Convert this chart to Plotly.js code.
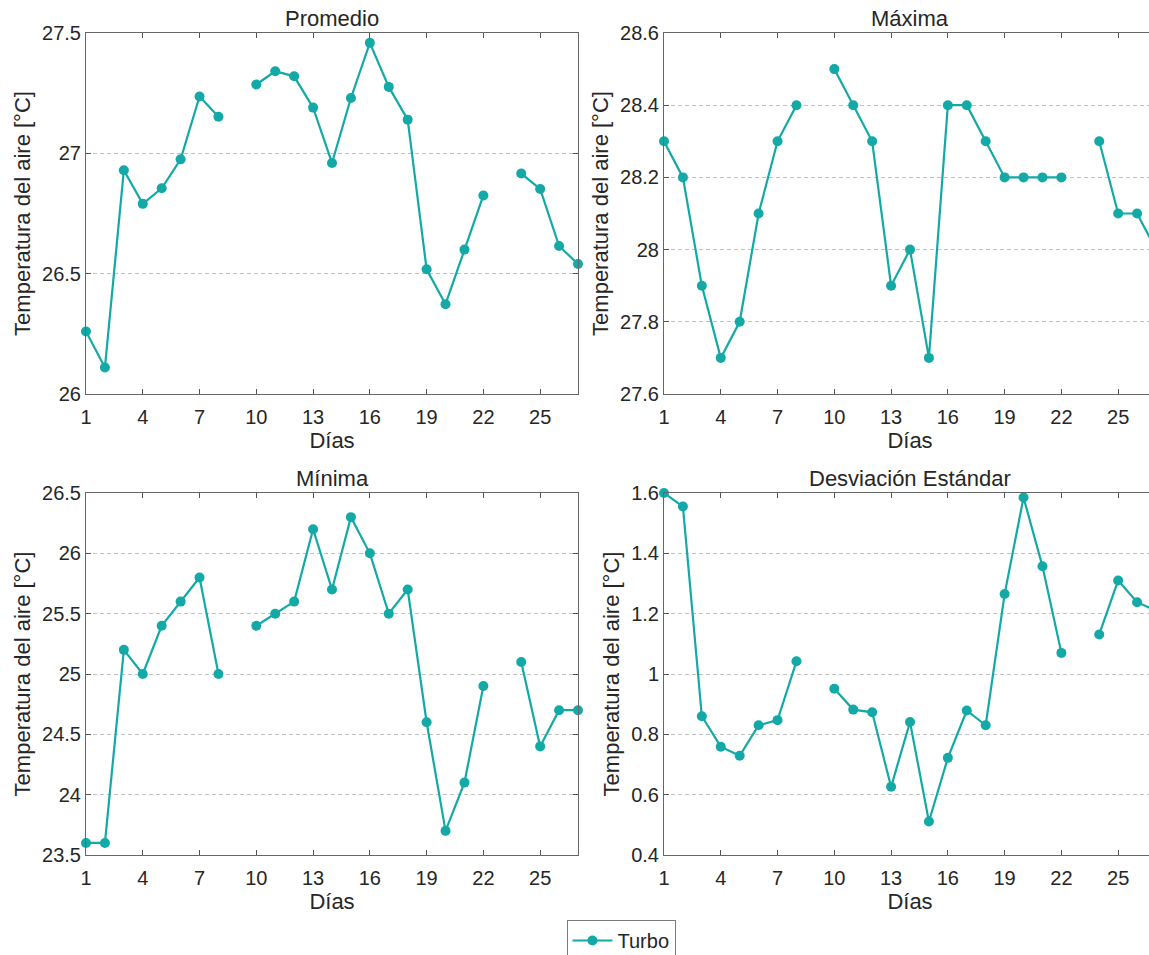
<!DOCTYPE html>
<html>
<head>
<meta charset="utf-8">
<script src="https://cdn.plot.ly/plotly-3.0.1.min.js"></script>
<style>
html, body { margin:0; padding:0; overflow:hidden; background:#fff; }
#chart { width:1165px; height:975px; }
</style>
</head>
<body>
<div id="chart"></div>
<script>
const dias = [1,2,3,4,5,6,7,8,9,10,11,12,13,14,15,16,17,18,19,20,21,22,23,24,25,26,27];
const promedio = [26.26,26.11,26.93,26.79,26.855,26.975,27.236,27.152,null,27.286,27.341,27.32,27.19,26.96,27.23,27.459,27.276,27.14,26.518,26.373,26.6,26.825,null,26.916,26.852,26.615,26.54];
const maxima = [28.3,28.2,27.9,27.7,27.8,28.1,28.3,28.4,null,28.5,28.4,28.3,27.9,28.0,27.7,28.4,28.4,28.3,28.2,28.2,28.2,28.2,null,28.3,28.1,28.1,28.0];
const minima = [23.6,23.6,25.2,25.0,25.4,25.6,25.8,25.0,null,25.4,25.5,25.6,26.2,25.7,26.3,26.0,25.5,25.7,24.6,23.7,24.1,24.9,null,25.1,24.4,24.7,24.7];
const desviacion = [1.6,1.555,0.86,0.759,0.729,0.83,0.847,1.042,null,0.951,0.882,0.873,0.626,0.841,0.511,0.722,0.879,0.83,1.265,1.585,1.357,1.07,null,1.131,1.31,1.238,1.21];
const titulos = ["Promedio","Máxima","Mínima","Desviación Estándar"];
const serieNombre = "Turbo";
const xTicks = [1,4,7,10,13,16,19,22,25];

const W = 1165, H = 975;
const color = "#13a9a6";
const series = [promedio, maxima, minima, desviacion];
const yRanges = [[26,27.5],[27.6,28.6],[23.5,26.5],[0.4,1.6]];
const yDticks = [0.5,0.2,0.5,0.2];

const xd = [[86/W, 578/W],[664/W, 1156/W]];
const yd = [[1-394/H, 1-33/H],[1-855/H, 1-493/H]];

const traces = series.map((s,i)=>({
  x: dias, y: s, type:'scatter', mode:'lines+markers',
  name: serieNombre, showlegend: i===0, connectgaps:false, cliponaxis:false,
  line:{color:color, width:2.2}, marker:{color:color, size:10},
  xaxis: i===0?'x':'x'+(i+1), yaxis: i===0?'y':'y'+(i+1)
}));

const font = {family:'"Liberation Sans", Arial, sans-serif', color:'#262626'};
const layout = {
  width:W, height:H, margin:{l:0,r:0,t:0,b:0},
  paper_bgcolor:'#fff', plot_bgcolor:'#fff',
  font: Object.assign({size:20}, font),
  showlegend:true,
  legend:{x:621/W, xanchor:'center', y:1-920/H, yanchor:'top', orientation:'h',
          bordercolor:'#7a7a7a', borderwidth:1, bgcolor:'#fff',
          font:Object.assign({size:20}, font), itemwidth:40, tracegroupgap:0},
  annotations: [],
};
for (let i=0;i<4;i++){
  const col = i%2, row = Math.floor(i/2);
  const xk = i===0?'xaxis':'xaxis'+(i+1);
  const yk = i===0?'yaxis':'yaxis'+(i+1);
  const xa = i===0?'x':'x'+(i+1);
  const ya = i===0?'y':'y'+(i+1);
  layout[xk] = {
    domain: xd[col], anchor: ya, range:[1,27], tickmode:'array', tickvals:xTicks,
    ticks:'inside', ticklen:5, tickcolor:'#555', showline:true, mirror:'ticks',
    linecolor:'#666', linewidth:1, showgrid:false, zeroline:false,
    ticklabelstandoff:5,
    tickfont:Object.assign({size:20}, font),
    title:{text:'Días', font:Object.assign({size:22}, font), standoff:2}
  };
  layout[yk] = {
    domain: yd[row], anchor: xa, range:yRanges[i], dtick:yDticks[i], tick0:0,
    ticks:'inside', ticklen:5, tickcolor:'#555', showline:true, mirror:'ticks',
    linecolor:'#666', linewidth:1, showgrid:true, gridcolor:'#c2c2c2', griddash:'4px,3px',
    gridwidth:1, zeroline:false,
    tickfont:Object.assign({size:20}, font),
    title:{text:'Temperatura del aire [°C]', font:Object.assign({size:22}, font), standoff:5}
  };
  layout.annotations.push({
    text: titulos[i], xref:'paper', yref:'paper',
    x: col===0 ? 332/W : 910/W, y:yd[row][1],
    xanchor:'center', yanchor:'bottom', yshift:0, showarrow:false,
    font:Object.assign({size:22}, font)
  });
}

Plotly.newPlot('chart', traces, layout, {displayModeBar:false, staticPlot:true});
</script>
</body>
</html>
